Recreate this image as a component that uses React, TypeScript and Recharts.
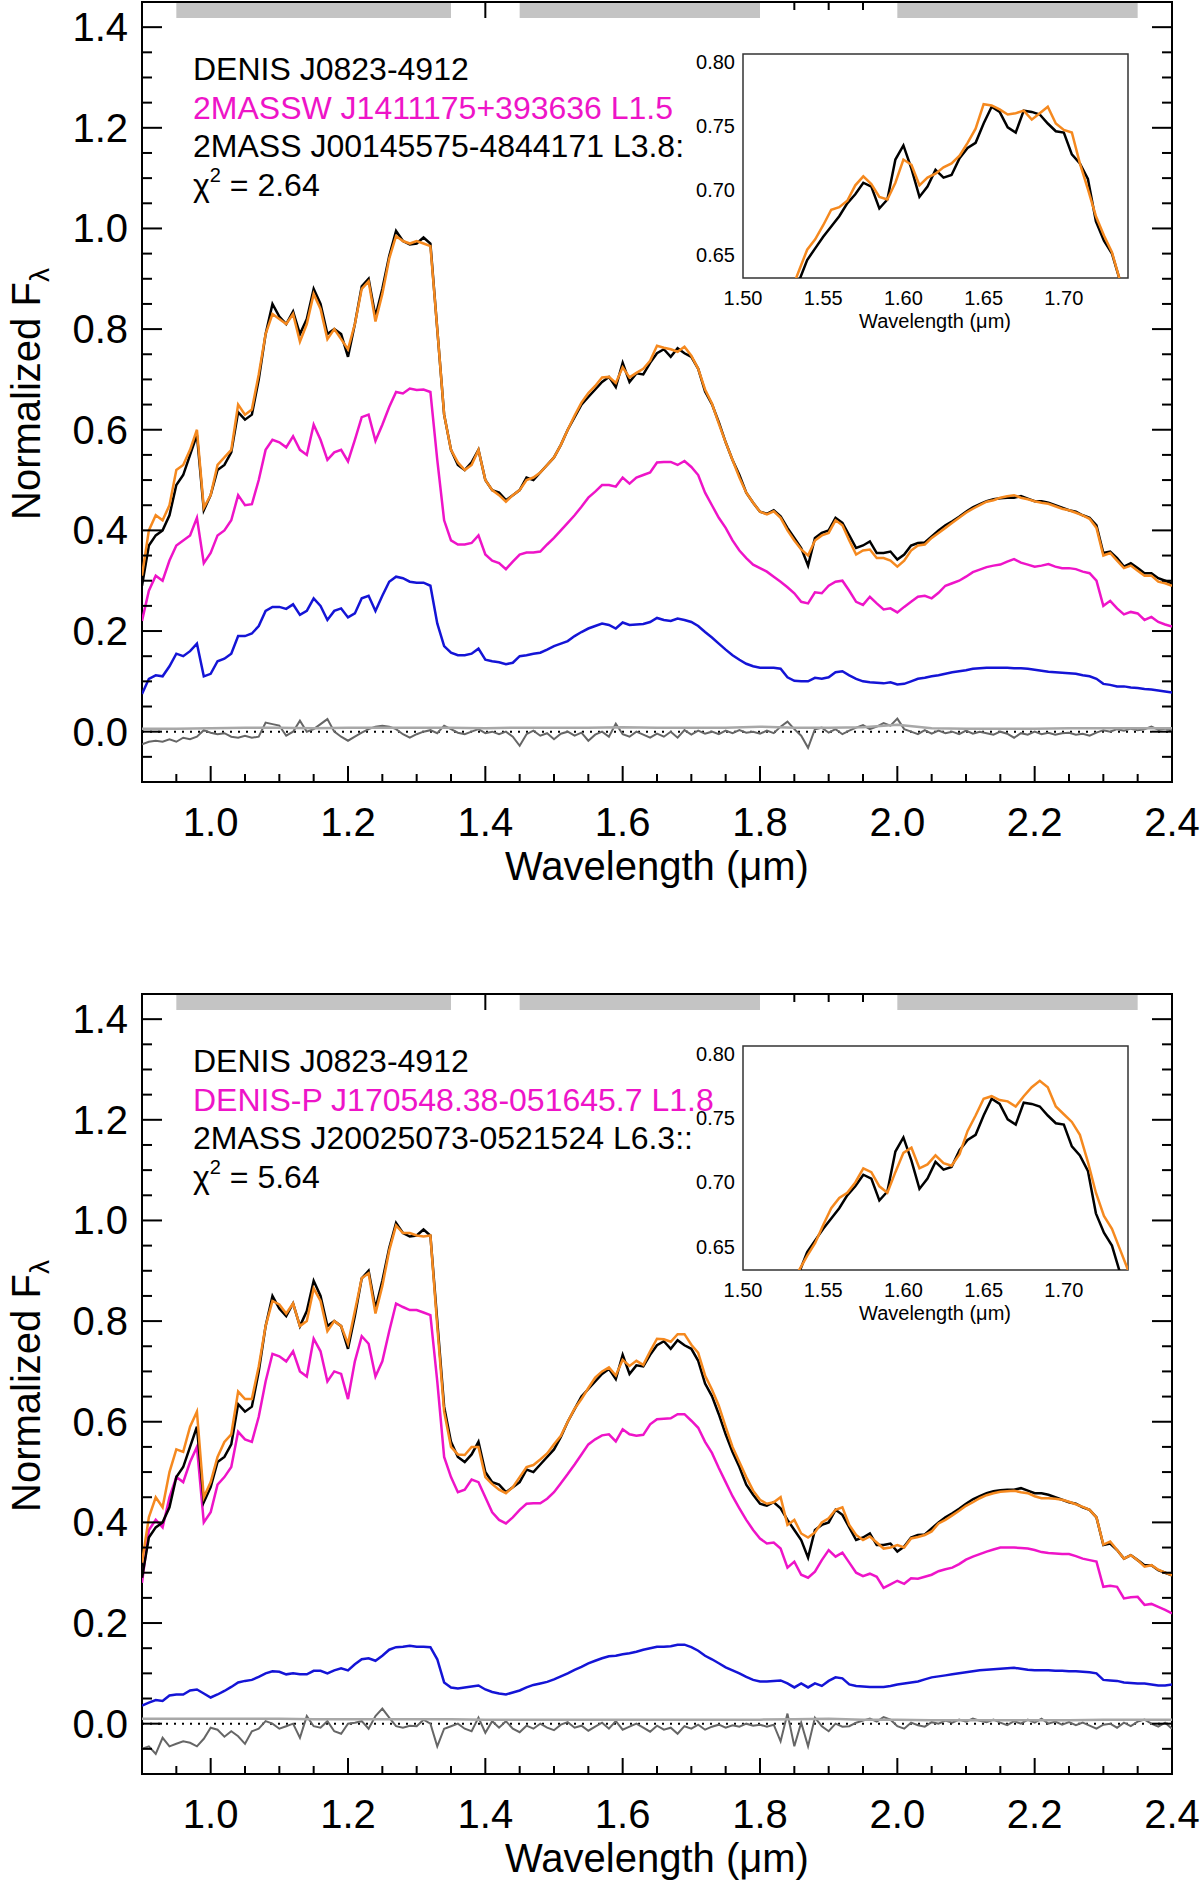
import React from 'react';
import { LineChart, Line, XAxis, YAxis, ReferenceArea, ReferenceLine } from 'recharts';

// Wavelength grid (µm) shared by every spectrum
const wavelength = [
  0.9, 0.91, 0.92, 0.93, 0.94, 0.95, 0.96, 0.97, 0.98, 0.99,
  1.0, 1.01, 1.02, 1.03, 1.04, 1.05, 1.06, 1.07, 1.08, 1.09,
  1.1, 1.11, 1.12, 1.13, 1.14, 1.15, 1.16, 1.17, 1.18, 1.19,
  1.2, 1.21, 1.22, 1.23, 1.24, 1.25, 1.26, 1.27, 1.28, 1.29,
  1.3, 1.31, 1.32, 1.33, 1.34, 1.35, 1.36, 1.37, 1.38, 1.39,
  1.4, 1.41, 1.42, 1.43, 1.44, 1.45, 1.46, 1.47, 1.48, 1.49,
  1.5, 1.51, 1.52, 1.53, 1.54, 1.55, 1.56, 1.57, 1.58, 1.59,
  1.6, 1.61, 1.62, 1.63, 1.64, 1.65, 1.66, 1.67, 1.68, 1.69,
  1.7, 1.71, 1.72, 1.73, 1.74, 1.75, 1.76, 1.77, 1.78, 1.79,
  1.8, 1.81, 1.82, 1.83, 1.84, 1.85, 1.86, 1.87, 1.88, 1.89,
  1.9, 1.91, 1.92, 1.93, 1.94, 1.95, 1.96, 1.97, 1.98, 1.99,
  2.0, 2.01, 2.02, 2.03, 2.04, 2.05, 2.06, 2.07, 2.08, 2.09,
  2.1, 2.11, 2.12, 2.13, 2.14, 2.15, 2.16, 2.17, 2.18, 2.19,
  2.2, 2.21, 2.22, 2.23, 2.24, 2.25, 2.26, 2.27, 2.28, 2.29,
  2.3, 2.31, 2.32, 2.33, 2.34, 2.35, 2.36, 2.37, 2.38, 2.39,
  2.4,
];

// DENIS J0823-4912 (same target in both panels)
const targetFlux = [
  0.29, 0.37, 0.39, 0.4, 0.43, 0.49, 0.51, 0.55, 0.59, 0.44,
  0.47, 0.52, 0.53, 0.555, 0.635, 0.62, 0.63, 0.7, 0.79, 0.85,
  0.825, 0.81, 0.835, 0.79, 0.82, 0.88, 0.85, 0.79, 0.8, 0.79,
  0.745, 0.81, 0.885, 0.9, 0.825, 0.88, 0.945, 0.995, 0.975, 0.968,
  0.97, 0.982, 0.97, 0.8, 0.63, 0.56, 0.53, 0.52, 0.535, 0.56,
  0.5, 0.48, 0.475, 0.46, 0.47, 0.48, 0.505, 0.5, 0.515, 0.53,
  0.545, 0.57, 0.6, 0.625, 0.65, 0.665, 0.68, 0.695, 0.705, 0.685,
  0.733, 0.695, 0.712, 0.71, 0.733, 0.752, 0.76, 0.745, 0.762, 0.752,
  0.745, 0.721, 0.676, 0.651, 0.615, 0.575, 0.54, 0.51, 0.475, 0.455,
  0.437, 0.433, 0.44, 0.428, 0.405, 0.385, 0.365, 0.33, 0.385, 0.395,
  0.4, 0.425, 0.415, 0.39, 0.365, 0.37, 0.378, 0.355, 0.355, 0.358,
  0.342, 0.352, 0.37, 0.375, 0.376, 0.388, 0.4, 0.41, 0.418, 0.427,
  0.437, 0.446, 0.452, 0.458, 0.462, 0.464, 0.465, 0.465, 0.468, 0.463,
  0.458, 0.458, 0.455, 0.45, 0.445, 0.44, 0.437, 0.43, 0.425, 0.41,
  0.355, 0.358, 0.345, 0.328, 0.335, 0.325, 0.315, 0.315, 0.305, 0.3,
  0.295,
];

// Top panel: 2MASSW J1411175+393636 (L1.5) + 2MASS J00145575-4844171 (L3.8)
const topFit = [
  0.31, 0.4, 0.43, 0.42, 0.45, 0.52, 0.53, 0.56, 0.6, 0.445,
  0.47, 0.53, 0.545, 0.56, 0.65, 0.63, 0.64, 0.71, 0.79, 0.83,
  0.82, 0.81, 0.83, 0.775, 0.81, 0.87, 0.84, 0.78, 0.8, 0.78,
  0.76, 0.81, 0.88, 0.895, 0.815, 0.87, 0.94, 0.985, 0.975, 0.97,
  0.975, 0.97, 0.965, 0.8, 0.63, 0.56, 0.535, 0.52, 0.53, 0.56,
  0.5, 0.48, 0.47, 0.457, 0.47, 0.48, 0.5, 0.505, 0.515, 0.53,
  0.545, 0.57, 0.6, 0.628, 0.654, 0.673, 0.687, 0.704, 0.705, 0.693,
  0.724, 0.704, 0.713, 0.721, 0.737, 0.767, 0.763, 0.76, 0.755, 0.765,
  0.747, 0.721, 0.68, 0.652, 0.612, 0.575, 0.54, 0.505, 0.475, 0.455,
  0.437, 0.432, 0.438, 0.425, 0.4, 0.38, 0.362, 0.35, 0.38, 0.39,
  0.395, 0.42, 0.41, 0.38, 0.352, 0.36, 0.362, 0.345, 0.345, 0.34,
  0.328, 0.34, 0.36, 0.37, 0.372, 0.385, 0.395, 0.405, 0.415, 0.425,
  0.435, 0.443, 0.45, 0.457, 0.46, 0.465, 0.468, 0.47, 0.465, 0.462,
  0.458, 0.455, 0.453, 0.448, 0.443, 0.44, 0.435, 0.43, 0.423, 0.405,
  0.35, 0.355, 0.34, 0.325, 0.33, 0.32, 0.31, 0.31, 0.298, 0.295,
  0.29,
];

const topPrimary = [
  0.22, 0.28, 0.31, 0.3, 0.34, 0.37, 0.38, 0.39, 0.425, 0.335,
  0.355, 0.39, 0.4, 0.42, 0.47, 0.45, 0.452, 0.5, 0.56, 0.58,
  0.575, 0.565, 0.587, 0.56, 0.55, 0.61, 0.58, 0.54, 0.555, 0.56,
  0.537, 0.58, 0.625, 0.63, 0.578, 0.61, 0.645, 0.675, 0.672, 0.682,
  0.679, 0.68, 0.675, 0.54, 0.42, 0.38, 0.372, 0.372, 0.375, 0.39,
  0.352, 0.34, 0.335, 0.323, 0.338, 0.352, 0.356, 0.356, 0.358, 0.372,
  0.385, 0.4, 0.415, 0.43, 0.447, 0.465, 0.477, 0.49, 0.49, 0.487,
  0.505, 0.493, 0.505, 0.51, 0.515, 0.535, 0.536, 0.536, 0.53, 0.538,
  0.526, 0.51, 0.475, 0.45, 0.425, 0.405, 0.38, 0.36, 0.345, 0.332,
  0.325, 0.318, 0.308, 0.298, 0.287, 0.275, 0.258, 0.255, 0.277, 0.275,
  0.29, 0.298, 0.3, 0.28, 0.258, 0.252, 0.268, 0.255, 0.243, 0.245,
  0.237, 0.248, 0.258, 0.268, 0.27, 0.265, 0.276, 0.29, 0.295, 0.3,
  0.308, 0.317, 0.322, 0.327, 0.33, 0.332, 0.338, 0.343, 0.336, 0.332,
  0.328, 0.33, 0.333, 0.328, 0.325, 0.325, 0.323, 0.318, 0.315, 0.3,
  0.25, 0.26, 0.245, 0.233, 0.238, 0.235, 0.222, 0.228, 0.218, 0.213,
  0.209,
];

const topSecondary = [
  0.075, 0.105, 0.112, 0.11, 0.13, 0.155, 0.15, 0.16, 0.175, 0.11,
  0.115, 0.14, 0.145, 0.155, 0.19, 0.19, 0.195, 0.21, 0.24, 0.248,
  0.248, 0.244, 0.253, 0.232, 0.24, 0.265, 0.25, 0.222, 0.24, 0.245,
  0.227, 0.235, 0.265, 0.27, 0.24, 0.27, 0.298, 0.308, 0.305, 0.298,
  0.296, 0.296, 0.29, 0.215, 0.17, 0.157, 0.152, 0.152, 0.155, 0.165,
  0.143, 0.14, 0.138, 0.134, 0.137, 0.15, 0.152, 0.155, 0.157, 0.163,
  0.17, 0.175, 0.18, 0.19, 0.198, 0.205, 0.21, 0.215, 0.212, 0.205,
  0.217, 0.212, 0.213, 0.214, 0.218, 0.226, 0.222, 0.22, 0.225, 0.222,
  0.218, 0.21, 0.198, 0.187, 0.175, 0.163, 0.152, 0.143, 0.135, 0.13,
  0.127, 0.127, 0.127, 0.125, 0.108, 0.101, 0.1, 0.1, 0.107, 0.105,
  0.108, 0.118, 0.12, 0.112, 0.105, 0.1, 0.098, 0.097, 0.096, 0.098,
  0.094, 0.095, 0.1, 0.105, 0.107, 0.11, 0.112, 0.115, 0.118, 0.12,
  0.122, 0.125, 0.126, 0.127, 0.127, 0.127, 0.127, 0.126, 0.126, 0.125,
  0.123, 0.121, 0.119, 0.118, 0.117, 0.116, 0.115, 0.112, 0.11, 0.105,
  0.095, 0.093, 0.09, 0.09, 0.088, 0.087, 0.085, 0.084, 0.082, 0.08,
  0.078,
];

const topResidual = [
  -0.025, -0.02, -0.018, -0.02, -0.015, -0.02, -0.012, -0.015, -0.01, 0.003,
  -0.002, -0.005, -0.003, -0.01, -0.012, -0.008, -0.012, -0.01, 0.018, 0.015,
  0.012, -0.008, 0.0, 0.022, 0.0, 0.005, 0.015, 0.025, 0.0, -0.01,
  -0.018, -0.01, -0.002, 0.005, 0.01, 0.012, 0.01, 0.005, -0.005, -0.012,
  -0.005, 0.0, 0.003, -0.003, 0.012, 0.005, -0.002, -0.005, 0.0, 0.005,
  -0.003, 0.0, -0.005, 0.0, -0.01, -0.028, -0.005, 0.002, -0.008, -0.003,
  -0.015, -0.004, 0.0, -0.008, -0.002, -0.018, -0.006, 0.0, -0.01, 0.016,
  -0.005, -0.01, 0.0, -0.006, -0.012, -0.004, -0.01, 0.0, -0.012, 0.003,
  -0.006, 0.002, -0.004, 0.0, -0.005, 0.002, -0.003, 0.003, -0.002, 0.0,
  -0.004, 0.002, -0.003, 0.01, 0.02, 0.005, -0.008, -0.032, 0.005, 0.008,
  -0.002, 0.005, -0.005, 0.002, 0.008, 0.013, 0.005, 0.01, 0.017, 0.012,
  0.026, 0.005, 0.0, -0.005, 0.003, -0.004, 0.002, -0.003, 0.0, -0.005,
  0.002, -0.004, 0.0, -0.003, -0.006, 0.0, -0.004, -0.012, -0.003, -0.006,
  0.0, -0.005, -0.002, -0.006, -0.003, -0.002, -0.006, -0.004, -0.008, -0.002,
  0.003, 0.0, 0.005, 0.002, 0.006, 0.003, 0.005, 0.01, 0.004, 0.006,
  0.002,
];

// Bottom panel: DENIS-P J170548.38-051645.7 (L1.8) + 2MASS J20025073-0521524 (L6.3)
const bottomFit = [
  0.32, 0.41, 0.45, 0.43, 0.5, 0.545, 0.54, 0.59, 0.62, 0.45,
  0.48, 0.53, 0.56, 0.575, 0.66, 0.645, 0.645, 0.71, 0.79, 0.84,
  0.833, 0.815, 0.835, 0.79, 0.8, 0.865, 0.84, 0.78, 0.8, 0.79,
  0.755, 0.82, 0.885, 0.895, 0.815, 0.87, 0.94, 0.99, 0.975, 0.975,
  0.97, 0.968, 0.97, 0.79, 0.62, 0.55, 0.535, 0.534, 0.55, 0.55,
  0.49, 0.476, 0.465, 0.458, 0.47, 0.49, 0.51, 0.514, 0.525, 0.537,
  0.555, 0.572, 0.6, 0.626, 0.645, 0.667, 0.688, 0.7, 0.708, 0.692,
  0.723, 0.711, 0.721, 0.713, 0.74, 0.765, 0.764, 0.759, 0.774, 0.774,
  0.753, 0.737, 0.692, 0.664, 0.632, 0.59, 0.55, 0.52, 0.49, 0.463,
  0.445, 0.437, 0.44, 0.45, 0.395, 0.405, 0.378, 0.37, 0.38, 0.4,
  0.408, 0.425, 0.43, 0.395, 0.375, 0.365, 0.372, 0.36, 0.348, 0.35,
  0.355, 0.35, 0.368, 0.371, 0.375, 0.382, 0.398, 0.405, 0.414, 0.423,
  0.433, 0.44, 0.448, 0.454, 0.458, 0.461, 0.462, 0.463, 0.46, 0.458,
  0.452, 0.448, 0.448, 0.447, 0.445, 0.441, 0.436, 0.431, 0.425, 0.41,
  0.356, 0.362, 0.345, 0.328, 0.335, 0.325, 0.312, 0.315, 0.306, 0.3,
  0.295,
];

const bottomPrimary = [
  0.28, 0.385, 0.405, 0.39, 0.45, 0.49, 0.48, 0.52, 0.55, 0.4,
  0.42, 0.475, 0.49, 0.51, 0.58, 0.565, 0.56, 0.61, 0.68, 0.735,
  0.73, 0.72, 0.74, 0.7, 0.69, 0.765, 0.74, 0.68, 0.7, 0.695,
  0.645, 0.72, 0.77, 0.755, 0.69, 0.72, 0.78, 0.835, 0.828, 0.822,
  0.822, 0.817, 0.812, 0.68, 0.53, 0.49, 0.46, 0.465, 0.485, 0.48,
  0.45, 0.42, 0.405, 0.398, 0.41, 0.425, 0.437, 0.438, 0.438, 0.447,
  0.46, 0.478, 0.496, 0.515, 0.535, 0.555, 0.565, 0.573, 0.575, 0.561,
  0.585, 0.575, 0.572, 0.574, 0.595, 0.605, 0.606, 0.607, 0.615, 0.615,
  0.602, 0.588, 0.56, 0.538, 0.508, 0.48, 0.452, 0.428, 0.405, 0.385,
  0.368, 0.358, 0.36, 0.348, 0.31, 0.322, 0.296, 0.29, 0.302, 0.325,
  0.345, 0.332, 0.34, 0.32, 0.3, 0.293, 0.298, 0.292, 0.27, 0.277,
  0.284, 0.278, 0.289, 0.288, 0.292, 0.296, 0.303, 0.307, 0.31, 0.317,
  0.326, 0.332, 0.337, 0.342, 0.346, 0.35, 0.35, 0.35, 0.349, 0.348,
  0.345, 0.341, 0.339, 0.338, 0.337, 0.337, 0.333, 0.328, 0.325, 0.322,
  0.272, 0.274, 0.272, 0.249, 0.251, 0.252, 0.236, 0.238, 0.232, 0.226,
  0.219,
];

const bottomSecondary = [
  0.036, 0.042, 0.047, 0.045, 0.056, 0.058, 0.058, 0.066, 0.068, 0.06,
  0.052, 0.058, 0.065, 0.073, 0.082, 0.085, 0.087, 0.093, 0.1, 0.104,
  0.103, 0.098, 0.1, 0.098, 0.098, 0.105, 0.105, 0.1, 0.106, 0.11,
  0.106, 0.118, 0.128, 0.13, 0.125, 0.135, 0.147, 0.152, 0.153, 0.155,
  0.153, 0.153, 0.152, 0.128, 0.082, 0.072, 0.07, 0.072, 0.074, 0.076,
  0.068, 0.063, 0.06, 0.058, 0.062, 0.066, 0.072, 0.077, 0.08, 0.083,
  0.088, 0.094, 0.1, 0.107, 0.113, 0.12, 0.125, 0.13, 0.134, 0.135,
  0.138, 0.14, 0.143, 0.147, 0.15, 0.153, 0.153, 0.154, 0.157, 0.157,
  0.152, 0.145, 0.135, 0.128, 0.12, 0.112, 0.106, 0.1, 0.093, 0.087,
  0.084, 0.084, 0.085, 0.086, 0.08, 0.072, 0.08, 0.072, 0.08, 0.075,
  0.085, 0.092, 0.09, 0.078, 0.075, 0.074, 0.073, 0.073, 0.073, 0.075,
  0.078, 0.08, 0.082, 0.084, 0.088, 0.092, 0.094, 0.096, 0.098, 0.1,
  0.102, 0.104, 0.106, 0.107, 0.108, 0.109, 0.11, 0.111, 0.109, 0.107,
  0.106, 0.106, 0.106, 0.105, 0.105, 0.104, 0.104, 0.103, 0.102, 0.1,
  0.087, 0.086, 0.085, 0.082, 0.081, 0.08, 0.08, 0.078, 0.076, 0.076,
  0.078,
];

const bottomResidual = [
  -0.05, -0.045, -0.06, -0.028, -0.045, -0.04, -0.035, -0.038, -0.045, -0.03,
  -0.008, -0.012, -0.026, -0.015, -0.025, -0.04, -0.015, -0.01, 0.005, 0.0,
  -0.01, -0.005, 0.0, -0.028, 0.015, -0.005, -0.008, 0.005, -0.015, -0.02,
  0.0, 0.002, 0.005, -0.01, 0.015, 0.03, 0.012, -0.005, -0.008, -0.004,
  -0.005, 0.008, 0.0, -0.045, -0.01, -0.005, 0.0, -0.01, -0.015, 0.012,
  -0.018, 0.005, -0.008, 0.005, -0.01, -0.017, -0.004, -0.01, 0.0, -0.008,
  -0.013, -0.002, 0.003, -0.008, -0.004, -0.014, -0.006, 0.002, -0.01, 0.005,
  -0.012, -0.006, 0.0, -0.008, -0.016, -0.004, -0.012, -0.008, -0.02, -0.005,
  -0.01, -0.002, -0.012, -0.006, -0.002, -0.008, -0.003, -0.006, 0.0, -0.004,
  -0.002, -0.006, -0.002, -0.035, 0.02, -0.045, 0.002, -0.045, 0.012, -0.005,
  -0.015, 0.0, -0.006, -0.005, 0.002, 0.006, 0.01, 0.004, 0.013, 0.008,
  -0.005, -0.01, 0.002, -0.003, -0.006, 0.003, 0.0, 0.006, 0.002, 0.008,
  0.004, 0.01, 0.006, 0.003, 0.008, 0.002, -0.003, 0.005, 0.0, 0.008,
  0.002, 0.01, 0.0, 0.004, -0.002, 0.003, -0.003, 0.002, -0.004, -0.01,
  -0.002, 0.0, -0.008, 0.002, -0.005, 0.004, 0.008, 0.0, -0.006, 0.002,
  -0.01,
];

// Noise spectrum (light grey), sampled more coarsely
const noiseWavelength = [
  0.9, 0.95, 1.0, 1.05, 1.1, 1.15, 1.2, 1.25, 1.3, 1.35,
  1.4, 1.45, 1.5, 1.55, 1.6, 1.65, 1.7, 1.75, 1.8, 1.85,
  1.9, 1.95, 2.0, 2.05, 2.1, 2.15, 2.2, 2.25, 2.3, 2.35,
  2.4,
];
const topNoise = [
  0.006, 0.006, 0.007, 0.008, 0.008, 0.007, 0.008, 0.008, 0.008, 0.008,
  0.007, 0.008, 0.008, 0.008, 0.009, 0.008, 0.008, 0.008, 0.01, 0.008,
  0.008, 0.009, 0.014, 0.007, 0.006, 0.006, 0.006, 0.007, 0.007, 0.007,
  0.007,
];
const bottomNoise = [
  0.01, 0.01, 0.01, 0.01, 0.01, 0.009, 0.009, 0.009, 0.009, 0.009,
  0.008, 0.008, 0.008, 0.008, 0.008, 0.008, 0.008, 0.008, 0.008, 0.009,
  0.01, 0.008, 0.008, 0.007, 0.007, 0.007, 0.007, 0.007, 0.008, 0.008,
  0.008,
];

// Inset (H-band peak), finer sampling
const insetWavelength = [
  1.53, 1.535, 1.54, 1.545, 1.55, 1.555, 1.56, 1.565, 1.57, 1.575,
  1.58, 1.585, 1.59, 1.595, 1.6, 1.605, 1.61, 1.615, 1.62, 1.625,
  1.63, 1.635, 1.64, 1.645, 1.65, 1.655, 1.66, 1.665, 1.67, 1.675,
  1.68, 1.685, 1.69, 1.695, 1.7, 1.705, 1.71, 1.715, 1.72, 1.725,
  1.73, 1.735, 1.74, 1.745,
];
const insetTarget = [
  0.615, 0.63, 0.646, 0.655, 0.664, 0.672, 0.68, 0.69, 0.697, 0.706,
  0.703, 0.686, 0.693, 0.724, 0.735, 0.717, 0.695, 0.703, 0.716, 0.71,
  0.712, 0.725, 0.733, 0.737, 0.752, 0.765, 0.761, 0.749, 0.745, 0.762,
  0.761, 0.759, 0.752, 0.746, 0.745, 0.728, 0.721, 0.709, 0.676, 0.661,
  0.651, 0.63, 0.615, 0.6,
];
const insetTopFit = [
  0.622, 0.638, 0.654, 0.662, 0.673, 0.685, 0.687, 0.692, 0.704, 0.711,
  0.705, 0.695, 0.693, 0.706, 0.724, 0.72, 0.704, 0.71, 0.713, 0.718,
  0.721, 0.727, 0.737, 0.748, 0.767, 0.766, 0.763, 0.759, 0.76, 0.762,
  0.755, 0.76, 0.765, 0.752, 0.747, 0.745, 0.721, 0.701, 0.68, 0.665,
  0.652, 0.63, 0.612, 0.595,
];
const insetBottomFit = [
  0.615, 0.632, 0.643, 0.653, 0.667, 0.68, 0.688, 0.692, 0.7, 0.711,
  0.708, 0.697, 0.692, 0.708, 0.723, 0.727, 0.711, 0.714, 0.721, 0.715,
  0.713, 0.722, 0.74, 0.752, 0.765, 0.767, 0.764, 0.763, 0.759, 0.767,
  0.774, 0.779, 0.774, 0.759, 0.753, 0.747, 0.737, 0.716, 0.692, 0.674,
  0.664, 0.648, 0.632, 0.62,
];

// Telluric band markers along the top axis
const bandStart = [0.95, 1.45, 2.0];
const bandEnd = [1.35, 1.8, 2.35];

const xTicks = [
  0.9, 0.95, 1.0, 1.05, 1.1, 1.15, 1.2, 1.25, 1.3, 1.35, 1.4, 1.45, 1.5, 1.55, 1.6, 1.65,
  1.7, 1.75, 1.8, 1.85, 1.9, 1.95, 2.0, 2.05, 2.1, 2.15, 2.2, 2.25, 2.3, 2.35, 2.4,
];
const yTicks = [
  -0.1, -0.05, 0, 0.05, 0.1, 0.15, 0.2, 0.25, 0.3, 0.35, 0.4, 0.45, 0.5, 0.55, 0.6, 0.65,
  0.7, 0.75, 0.8, 0.85, 0.9, 0.95, 1.0, 1.05, 1.1, 1.15, 1.2, 1.25, 1.3, 1.35, 1.4,
];
const insetXTicks = [1.5, 1.55, 1.6, 1.65, 1.7];
const insetYTicks = [0.65, 0.7, 0.75, 0.8];

const topLabels = {
  target: 'DENIS J0823-4912',
  primary: '2MASSW J1411175+393636 L1.5',
  secondary: '2MASS J00145575-4844171 L3.8:',
  chi2: '2.64',
};
const bottomLabels = {
  target: 'DENIS J0823-4912',
  primary: 'DENIS-P J170548.38-051645.7 L1.8',
  secondary: '2MASS J20025073-0521524 L6.3::',
  chi2: '5.64',
};

const FONT = '"Liberation Sans", Arial, Helvetica, sans-serif';
const C = {
  target: '#000000',
  fit: '#f5891f',
  primary: '#ee14c8',
  secondary: '#1414d6',
  resid: '#666666',
  noise: '#a8a8a8',
  band: '#c4c4c4',
};

// plot box inside each panel (px)
const PL = 142;
const PR = 1172;
const PT = 2;
const PB = 782;

const isMajor = (v: number) => Math.abs(v / 0.2 - Math.round(v / 0.2)) < 1e-6;
const underBand = (v: number) => bandStart.some((s, i) => v >= s - 1e-6 && v <= bandEnd[i] + 1e-6);

const XTick = (props: any) => {
  const { x, payload } = props;
  const v = payload.value;
  const major = isMajor(v);
  const len = major ? 16 : 8;
  return (
    <g>
      <line x1={x} x2={x} y1={PB} y2={PB - len} stroke="#000" strokeWidth={2} />
      {!underBand(v) && <line x1={x} x2={x} y1={PT} y2={PT + len} stroke="#000" strokeWidth={2} />}
      {major && (
        <text x={x} y={836} textAnchor="middle" fontSize={40} fontFamily={FONT} fill="#000">
          {v.toFixed(1)}
        </text>
      )}
    </g>
  );
};

const YTick = (props: any) => {
  const { y, payload } = props;
  const v = payload.value;
  const major = isMajor(v);
  const len = major ? 20 : 10;
  return (
    <g>
      <line x1={PL} x2={PL + len} y1={y} y2={y} stroke="#000" strokeWidth={2} />
      <line x1={PR} x2={PR - len} y1={y} y2={y} stroke="#000" strokeWidth={2} />
      {major && (
        <text x={128} y={y + 14} textAnchor="end" fontSize={40} fontFamily={FONT} fill="#000">
          {Math.abs(v).toFixed(1)}
        </text>
      )}
    </g>
  );
};

const InsetXTick = (props: any) => {
  const { x, payload } = props;
  return (
    <text x={x} y={275} textAnchor="middle" fontSize={20} fontFamily={FONT} fill="#000">
      {payload.value.toFixed(2)}
    </text>
  );
};

const InsetYTick = (props: any) => {
  const { y, payload } = props;
  return (
    <text x={45} y={y + 7} textAnchor="end" fontSize={20} fontFamily={FONT} fill="#000">
      {payload.value.toFixed(2)}
    </text>
  );
};

const keyOf = (w: number) => Math.round(w * 1000);

function buildRows(fit: number[], primary: number[], secondary: number[], resid: number[], noise: number[]) {
  const noiseMap = new Map(noiseWavelength.map((w, i) => [keyOf(w), noise[i]]));
  return wavelength.map((w, i) => ({
    w,
    target: targetFlux[i],
    fit: fit[i],
    primary: primary[i],
    secondary: secondary[i],
    resid: resid[i],
    noise: noiseMap.get(keyOf(w)),
  }));
}

function buildInsetRows(fit: number[]) {
  return insetWavelength.map((w, i) => ({ w, target: insetTarget[i], fit: fit[i] }));
}

interface PanelProps {
  top: number;
  rows: any[];
  insetRows: any[];
  labels: typeof topLabels;
}

// axes need a non-zero size to be drawn, so 1px is taken from the margins
function SpectrumPanel({ top, rows, insetRows, labels }: PanelProps) {
  return (
    <div style={{ position: 'absolute', left: 0, top, width: 1200, height: 940 }}>
      <LineChart width={1200} height={940} data={rows} margin={{ top: PT, right: 1200 - PR, bottom: 940 - PB - 1, left: PL - 1 }}>
        <XAxis
          type="number"
          dataKey="w"
          domain={[0.9, 2.4]}
          ticks={xTicks}
          interval={0}
          height={1}
          axisLine={false}
          tickLine={false}
          tick={(p: any) => <XTick {...p} />}
          allowDataOverflow
        />
        <YAxis
          type="number"
          domain={[-0.1, 1.45]}
          ticks={yTicks}
          interval={0}
          width={1}
          axisLine={false}
          tickLine={false}
          tick={(p: any) => <YTick {...p} />}
          allowDataOverflow
        />
        {bandStart.map((s, i) => (
          <ReferenceArea key={`band-${i}`} x1={s} x2={bandEnd[i]} y1={1.418} y2={1.45} fill={C.band} fillOpacity={1} stroke="none" />
        ))}
        <ReferenceArea x1={0.9} x2={2.4} y1={-0.1} y2={1.45} fill="none" fillOpacity={0} stroke="#000" strokeWidth={2} />
        <ReferenceLine y={0} stroke="#000" strokeWidth={2} strokeDasharray="2 6" />
        <Line dataKey="resid" stroke={C.resid} strokeWidth={2} dot={false} isAnimationActive={false} />
        <Line dataKey="noise" stroke={C.noise} strokeWidth={2.5} dot={false} connectNulls isAnimationActive={false} />
        <Line dataKey="secondary" stroke={C.secondary} strokeWidth={2.5} dot={false} isAnimationActive={false} />
        <Line dataKey="primary" stroke={C.primary} strokeWidth={2.5} dot={false} isAnimationActive={false} />
        <Line dataKey="target" stroke={C.target} strokeWidth={2.5} dot={false} isAnimationActive={false} />
        <Line dataKey="fit" stroke={C.fit} strokeWidth={2.5} dot={false} isAnimationActive={false} />
      </LineChart>

      <div style={{ position: 'absolute', left: 690, top: 30 }}>
        <LineChart width={460} height={310} data={insetRows} margin={{ top: 24, right: 22, bottom: 61, left: 52 }}>
          <XAxis
            type="number"
            dataKey="w"
            domain={[1.5, 1.74]}
            ticks={insetXTicks}
            interval={0}
            height={1}
            axisLine={false}
            tickLine={false}
            tick={(p: any) => <InsetXTick {...p} />}
            allowDataOverflow
          />
          <YAxis
            type="number"
            domain={[0.632, 0.806]}
            ticks={insetYTicks}
            interval={0}
            width={1}
            axisLine={false}
            tickLine={false}
            tick={(p: any) => <InsetYTick {...p} />}
            allowDataOverflow
          />
          <ReferenceArea x1={1.5} x2={1.74} y1={0.632} y2={0.806} fill="none" fillOpacity={0} stroke="#333" strokeWidth={1.5} />
          <Line dataKey="target" stroke={C.target} strokeWidth={2.5} dot={false} isAnimationActive={false} />
          <Line dataKey="fit" stroke={C.fit} strokeWidth={2.5} dot={false} isAnimationActive={false} />
        </LineChart>
      </div>

      <svg width={1200} height={940} style={{ position: 'absolute', left: 0, top: 0, pointerEvents: 'none' }}>
        <text transform="translate(40,394) rotate(-90)" textAnchor="middle" fontSize={40} fontFamily={FONT} fill="#000">
          Normalized F<tspan fontSize={28} dy={9}>λ</tspan>
        </text>
        <text x={(PL + PR) / 2} y={880} textAnchor="middle" fontSize={40} fontFamily={FONT} fill="#000">
          Wavelength (μm)
        </text>
        <text x={935} y={328} textAnchor="middle" fontSize={20} fontFamily={FONT} fill="#000">
          Wavelength (μm)
        </text>
        <g fontSize={32} fontFamily={FONT}>
          <text x={193} y={80} fill={C.target}>{labels.target}</text>
          <text x={193} y={118.5} fill={C.primary}>{labels.primary}</text>
          <text x={193} y={157} fill={C.target}>{labels.secondary}</text>
          <text x={193} y={196} fill={C.target}>
            χ<tspan fontSize={20} dy={-14}>2</tspan>
            <tspan dy={14}> = {labels.chi2}</tspan>
          </text>
        </g>
      </svg>
    </div>
  );
}

const topRows = buildRows(topFit, topPrimary, topSecondary, topResidual, topNoise);
const bottomRows = buildRows(bottomFit, bottomPrimary, bottomSecondary, bottomResidual, bottomNoise);
const topInsetRows = buildInsetRows(insetTopFit);
const bottomInsetRows = buildInsetRows(insetBottomFit);

export default function App() {
  return (
    <div style={{ position: 'absolute', left: 0, top: 0, width: 1200, height: 1881, background: '#fff', overflow: 'hidden' }}>
      <SpectrumPanel top={0} rows={topRows} insetRows={topInsetRows} labels={topLabels} />
      <SpectrumPanel top={992} rows={bottomRows} insetRows={bottomInsetRows} labels={bottomLabels} />
    </div>
  );
}
